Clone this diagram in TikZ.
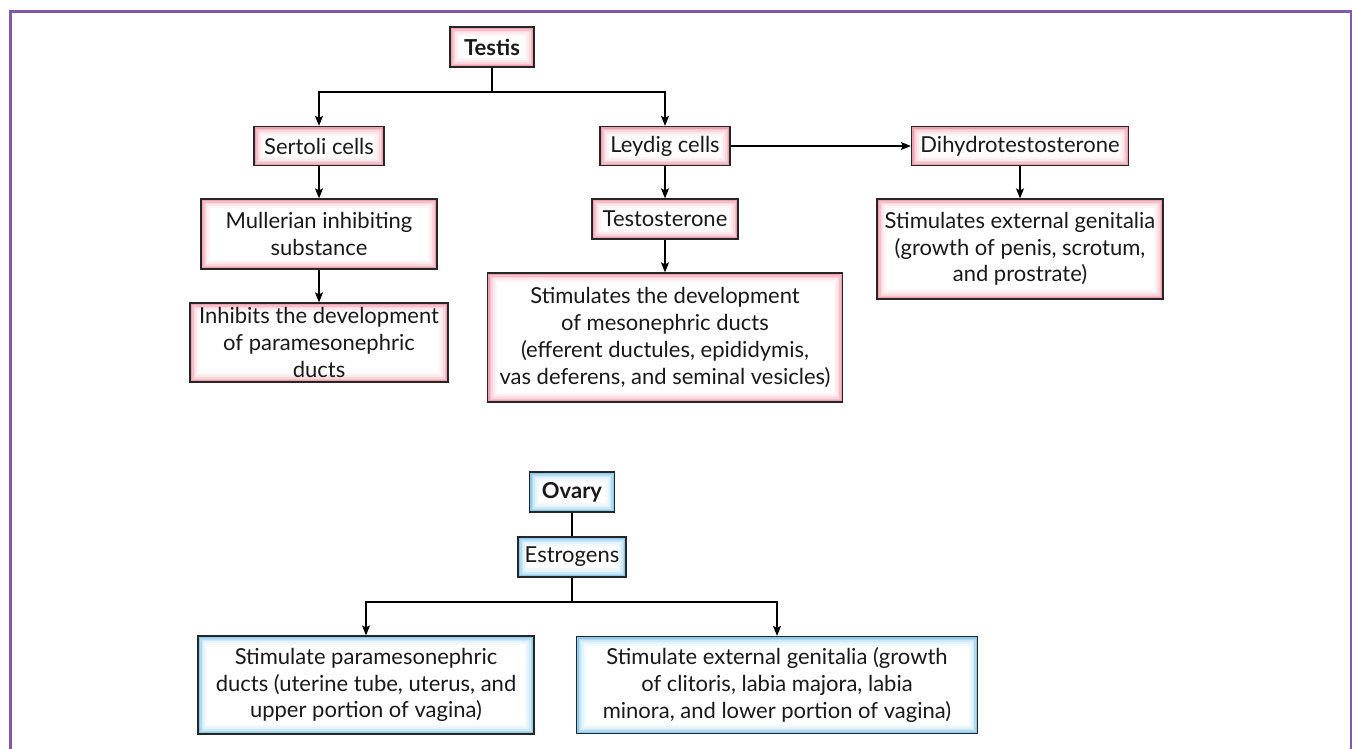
\documentclass[tikz,border=0pt]{standalone}
\usepackage{fontspec}
\setmainfont{Lato}
\usetikzlibrary{arrows.meta}
\definecolor{framec}{RGB}{128,90,168}
\definecolor{pinkg}{RGB}{230,100,125}
\definecolor{blueg}{RGB}{70,170,225}
\tikzset{
 box/.style={draw=black!85, line width=1.3pt, fill=white, inner sep=0pt, align=center,
   font=\fontsize{22}{26.7}\selectfont, text=black!90},
 glow/.style={path picture={
   \foreach \w/\c in {18/7,14/14,10/26,7/42,4/62}{
     \draw[line width=\w pt, #1!\c] (path picture bounding box.south west) rectangle (path picture bounding box.north east);}
 }},
 pinkbox/.style={box, glow=pinkg},
 bluebox/.style={box, glow=blueg},
 arr/.style={line width=1.2pt, -{Stealth[length=10pt,width=8pt,inset=2pt]}},
 ln/.style={line width=1.2pt},
}
\begin{document}
\begin{tikzpicture}[x=1pt,y=-1pt]
\useasboundingbox (0,0) rectangle (1352,748);
\clip (0,0) rectangle (1352,748);
\fill[white] (0,0) rectangle (1352,748);
\draw[framec, line width=3pt] (10,750) -- (10,11.5) -- (1351.5,11.5) -- (1351.5,750);

% male
\node[pinkbox, minimum width=84, minimum height=40] (testis) at (492,47) {\textbf{Testis}};
\node[pinkbox, minimum width=130, minimum height=39] (sertoli) at (319,146) {Sertoli cells};
\node[pinkbox, minimum width=130, minimum height=39] (leydig) at (665,146) {Leydig cells};
\node[pinkbox, minimum width=217, minimum height=39] (dht) at (1020,146) {Dihydrotestosterone};
\node[pinkbox, minimum width=236, minimum height=70] (mis) at (319,234) {Mullerian inhibiting\\substance};
\node[pinkbox, minimum width=146, minimum height=40] (testo) at (665,219) {Testosterone};
\node[pinkbox, minimum width=286, minimum height=100] (extm) at (1020,249) {Stimulates external genitalia\\(growth of penis, scrotum,\\and prostrate)};
\node[pinkbox, minimum width=258, minimum height=79] (inhib) at (319,342.5) {Inhibits the development\\of paramesonephric\\ducts};
\node[pinkbox, minimum width=355, minimum height=129] (meso) at (665,337.5) {Stimulates the development\\of mesonephric ducts\\(efferent ductules, epididymis,\\vas deferens, and seminal vesicles)};

\coordinate (tb) at (492,92);
\draw[ln] (testis) -- (tb);
\draw[arr] (tb) -| (sertoli);
\draw[arr] (tb) -| (leydig);
\draw[arr] (leydig) -- (dht);
\draw[arr] (sertoli) -- (mis);
\draw[arr] (mis) -- (inhib);
\draw[arr] (leydig) -- (testo);
\draw[arr] (testo) -- (meso);
\draw[arr] (dht) -- (extm);

% female
\node[bluebox, minimum width=85, minimum height=40] (ovary) at (572,492) {\textbf{Ovary}};
\node[bluebox, minimum width=108, minimum height=40] (estr) at (572,557) {Estrogens};
\node[bluebox, minimum width=336, minimum height=98] (para) at (366,685) {Stimulate paramesonephric\\ducts (uterine tube, uterus, and\\upper portion of vagina)};
\node[bluebox, minimum width=401, minimum height=97] (extf) at (777,685) {Stimulate external genitalia (growth\\of clitoris, labia majora, labia\\minora, and lower portion of vagina)};

\coordinate (eb) at (572,602);
\draw[ln] (ovary) -- (estr);
\draw[ln] (estr) -- (eb);
\draw[arr] (eb) -| (para);
\draw[arr] (eb) -| (extf);
\end{tikzpicture}
\end{document}
